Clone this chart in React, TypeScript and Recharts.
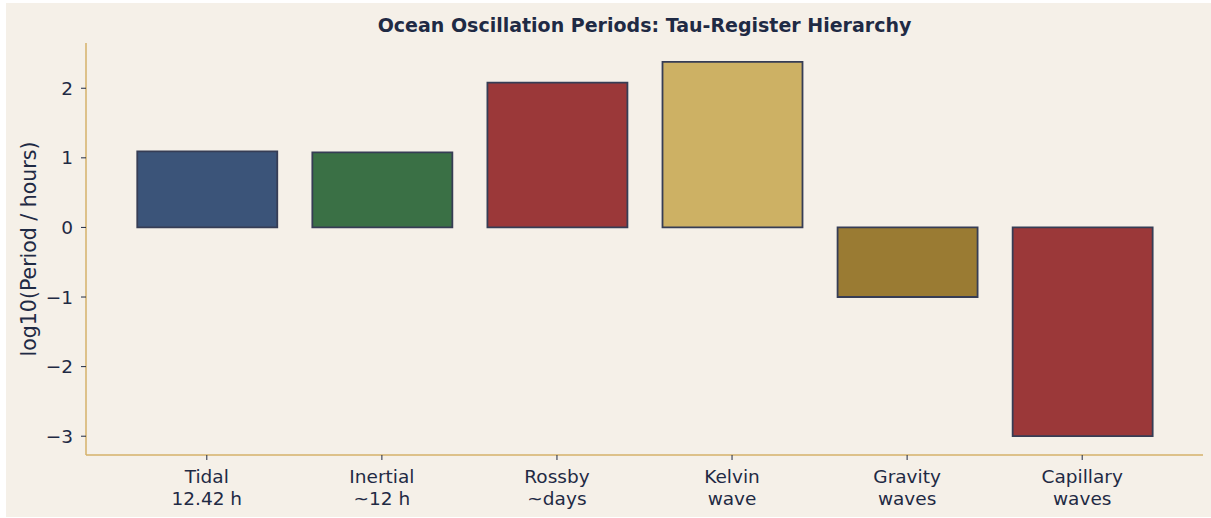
import React from 'react';
import { BarChart, Bar, XAxis, YAxis, Cell } from 'recharts';

const categoryNames = ['Tidal', 'Inertial', 'Rossby', 'Kelvin', 'Gravity', 'Capillary'];
const categorySubtitles = ['12.42 h', '~12 h', '~days', 'wave', 'waves', 'waves'];
const logPeriods = [1.094, 1.079, 2.08, 2.38, -1.0, -3.0];
const barColors = ['#3b5479', '#3a7045', '#9b3839', '#cdb164', '#9a7b33', '#9b3839'];
const yTicks = [-3, -2, -1, 0, 1, 2];
const xTicks = [0, 1, 2, 3, 4, 5];

const data = categoryNames.map((name, i) => ({ x: i, name, value: logPeriods[i] }));

const TEXT = '#1f2a44';
const SPINE = '#d4b26a';
const FONT = '"DejaVu Sans", sans-serif';

const XTick = (props: any) => {
  const { x, y, payload } = props;
  const i = payload.value as number;
  return (
    <g>
      <text x={x} y={y} textAnchor="middle" fill={TEXT} fontSize={18.5} fontFamily={FONT}>
        <tspan x={x} dy={21}>{categoryNames[i]}</tspan>
        <tspan x={x} dy={22}>{categorySubtitles[i]}</tspan>
      </text>
    </g>
  );
};

export default function App() {
  return (
    <div style={{ position: 'fixed', left: 0, top: 0, width: 1211, height: 518, background: '#ffffff' }}>
      <div style={{ position: 'absolute', left: 6, top: 3, width: 1205, height: 514, background: '#f5f0e8' }}>
        <div
          style={{
            position: 'absolute',
            left: 80,
            width: 1117,
            top: 11,
            textAlign: 'center',
            fontFamily: FONT,
            fontWeight: 'bold',
            fontSize: 19,
            color: TEXT,
            lineHeight: '22px',
          }}
        >
          Ocean Oscillation Periods: Tau-Register Hierarchy
        </div>
        <BarChart width={1205} height={514} data={data} margin={{ top: 40, right: 8, bottom: 0, left: 0 }}>
          <XAxis
            dataKey="x"
            type="number"
            domain={[-0.69, 5.69]}
            ticks={xTicks}
            allowDataOverflow
            height={62}
            tickSize={5}
            tickMargin={2}
            axisLine={{ stroke: SPINE, strokeWidth: 1.5 }}
            tickLine={{ stroke: TEXT, strokeWidth: 1 }}
            tick={<XTick />}
            interval={0}
          />
          <YAxis
            type="number"
            domain={[-3.27, 2.65]}
            ticks={yTicks}
            allowDataOverflow
            width={80}
            tickSize={5}
            tickMargin={8}
            axisLine={{ stroke: SPINE, strokeWidth: 1.5 }}
            tickLine={{ stroke: TEXT, strokeWidth: 1 }}
            tick={{ fill: TEXT, fontSize: 18.5, fontFamily: FONT }}
            tickFormatter={(v: number) => (v < 0 ? '\u2212' + Math.abs(v) : String(v))}
            label={{
              value: 'log10(Period / hours)',
              angle: -90,
              position: 'insideLeft',
              dx: 18,
              dy: 0,
              style: { fill: TEXT, fontSize: 20.5, fontFamily: FONT, textAnchor: 'middle' },
            }}
          />
          <Bar dataKey="value" barSize={140} stroke="#363d55" strokeWidth={1.8} isAnimationActive={false}>
            {data.map((d, i) => (
              <Cell key={d.name} fill={barColors[i]} />
            ))}
          </Bar>
        </BarChart>
      </div>
    </div>
  );
}
